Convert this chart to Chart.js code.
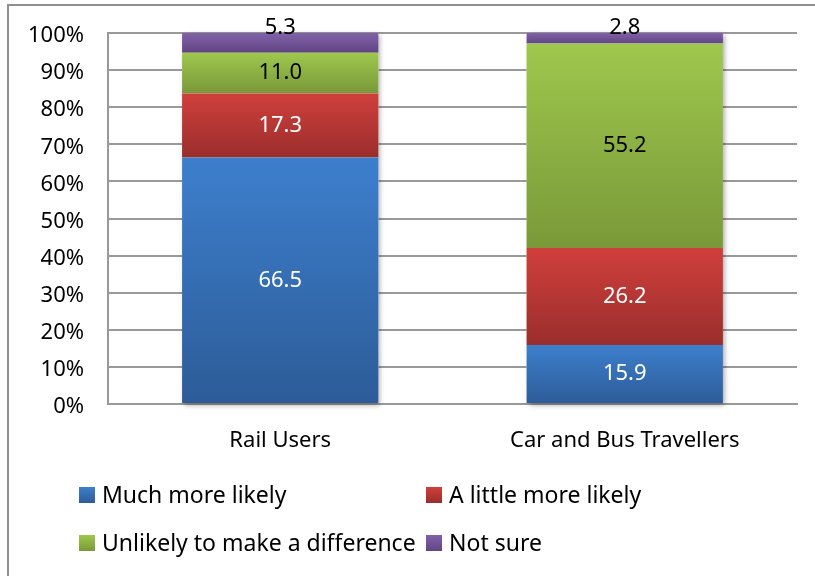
<!DOCTYPE html>
<html>
<head>
<meta charset="utf-8">
<script src="https://cdn.jsdelivr.net/npm/chart.js@4/dist/chart.umd.min.js"></script>
<style>
  body { margin: 0; background: #fff; }
  #wrap { width: 815px; height: 576px; position: relative; }
</style>
</head>
<body>
<div id="wrap"><canvas id="chart"></canvas></div>
<script>
/*---------- Data ----------*/
const groups = ["Rail Users", "Car and Bus Travellers"];
const seriesNames = ["Much more likely", "A little more likely", "Unlikely to make a difference", "Not sure"];
const muchMore = [66.5, 15.9];
const littleMore = [17.3, 26.2];
const noDifference = [11.0, 55.2];
const notSure = [5.3, 2.8];
const yTicks = [0, 10, 20, 30, 40, 50, 60, 70, 80, 90, 100];

// gradient colours, top then bottom
const shades = [
  ["#3d7fcd", "#2d5c98"],
  ["#d03f3c", "#9a2e2c"],
  ["#9fc74d", "#799939"],
  ["#8161a9", "#614583"]
];
const labelColors = ["#ffffff", "#ffffff", "#000000", "#000000"];
const FONT = "'Noto Sans', sans-serif";

const raw = [muchMore, littleMore, noDifference, notSure];
// 100% stacked: each column is scaled to its own total
const totals = groups.map((g, i) => raw.reduce((s, arr) => s + arr[i], 0));
const shares = raw.map(arr => arr.map((v, i) => v / totals[i] * 100));

/*---------- Gradient per segment ----------*/
function segmentFill(d) {
  return function (c) {
    const chart = c.chart;
    const ys = chart.scales.y;
    if (c.dataIndex === undefined || !ys || !chart.chartArea) return shades[d][0];
    let lo = 0;
    for (let k = 0; k < d; k++) lo += shares[k][c.dataIndex];
    const hi = lo + shares[d][c.dataIndex];
    const yTop = ys.getPixelForValue(Math.min(hi, 100));
    const yBot = ys.getPixelForValue(lo);
    const g = chart.ctx.createLinearGradient(0, yTop, 0, yBot);
    g.addColorStop(0, shades[d][0]);
    g.addColorStop(1, shades[d][1]);
    return g;
  };
}

/*---------- Plugins ----------*/
const frame = {
  id: "frame",
  beforeDraw(chart) {
    const ctx = chart.ctx;
    ctx.save();
    ctx.strokeStyle = "#8f8f8f";
    ctx.lineWidth = 2;
    ctx.strokeRect(8, 5, 830, 600);
    ctx.restore();
  }
};

const barShadow = {
  id: "barShadow",
  beforeDatasetsDraw(chart) {
    const ctx = chart.ctx;
    const first = chart.getDatasetMeta(0).data;
    const last = chart.getDatasetMeta(raw.length - 1).data;
    ctx.save();
    ctx.fillStyle = "#ffffff";
    ctx.shadowColor = "rgba(0,0,0,0.35)";
    ctx.shadowBlur = 5;
    ctx.shadowOffsetX = 2;
    ctx.shadowOffsetY = 2;
    first.forEach((el, i) => {
      const b = el.getProps(["x", "base", "width"], true);
      const t = last[i].getProps(["y"], true);
      ctx.fillRect(b.x - b.width / 2, t.y, b.width, b.base - t.y);
    });
    ctx.restore();
  }
};

const valueLabels = {
  id: "valueLabels",
  afterDatasetsDraw(chart) {
    const ctx = chart.ctx;
    ctx.save();
    ctx.font = "22px " + FONT;
    ctx.textAlign = "center";
    ctx.textBaseline = "middle";
    raw.forEach((arr, d) => {
      chart.getDatasetMeta(d).data.forEach((el, i) => {
        const p = el.getProps(["x", "y", "base"], true);
        let y = (p.y + p.base) / 2;
        if (d === raw.length - 1) y = p.y - 5; // small top slice: label sits on the edge
        ctx.fillStyle = labelColors[d];
        ctx.fillText(arr[i].toFixed(1), p.x, y);
      });
    });
    ctx.restore();
  }
};

const gridLegend = {
  id: "gridLegend",
  afterDraw(chart) {
    const ctx = chart.ctx;
    const cols = [79, 426];
    const rows = [495, 543];
    ctx.save();
    ctx.font = "23px " + FONT;
    ctx.textBaseline = "middle";
    ctx.textAlign = "left";
    seriesNames.forEach((name, k) => {
      const x = cols[k % 2];
      const y = rows[Math.floor(k / 2)];
      const g = ctx.createLinearGradient(0, y - 8, 0, y + 8);
      g.addColorStop(0, shades[k][0]);
      g.addColorStop(1, shades[k][1]);
      ctx.fillStyle = g;
      ctx.fillRect(x, y - 8, 16, 16);
      ctx.fillStyle = "#000";
      ctx.fillText(name, x + 23, y + 1);
    });
    ctx.restore();
  }
};

/*---------- Chart ----------*/
const chartData = {
  labels: groups,
  datasets: shares.map((arr, d) => ({
    label: seriesNames[d],
    data: arr,
    backgroundColor: segmentFill(d),
    borderWidth: 0,
    barPercentage: 0.57,
    categoryPercentage: 1
  }))
};

const gridColor = "#999999";

new Chart(document.getElementById("chart"), {
  type: "bar",
  data: chartData,
  options: {
    responsive: true,
    maintainAspectRatio: false,
    animation: false,
    layout: { padding: { top: 33, right: 18, left: 0, bottom: 0 } },
    plugins: {
      legend: { display: false },
      tooltip: { enabled: false }
    },
    scales: {
      x: {
        stacked: true,
        grid: { display: false, drawTicks: false },
        border: { color: gridColor, width: 2 },
        ticks: { color: "#000", font: { family: FONT, size: 22 }, padding: 24 },
        afterFit(scale) { scale.height = 172; }
      },
      y: {
        stacked: true,
        min: 0,
        max: 100,
        afterBuildTicks(scale) { scale.ticks = yTicks.map(v => ({ value: v })); },
        grid: { color: gridColor, lineWidth: 2, drawTicks: false },
        border: { color: gridColor, width: 2 },
        ticks: {
          color: "#000",
          font: { family: FONT, size: 22 },
          padding: 24,
          labelOffset: 3,
          callback: v => v + "%"
        },
        afterFit(scale) {
          scale.width = 108;
          scale.paddingTop = 0;
          scale.paddingBottom = 0;
        }
      }
    }
  },
  plugins: [frame, barShadow, valueLabels, gridLegend]
});
</script>
</body>
</html>
